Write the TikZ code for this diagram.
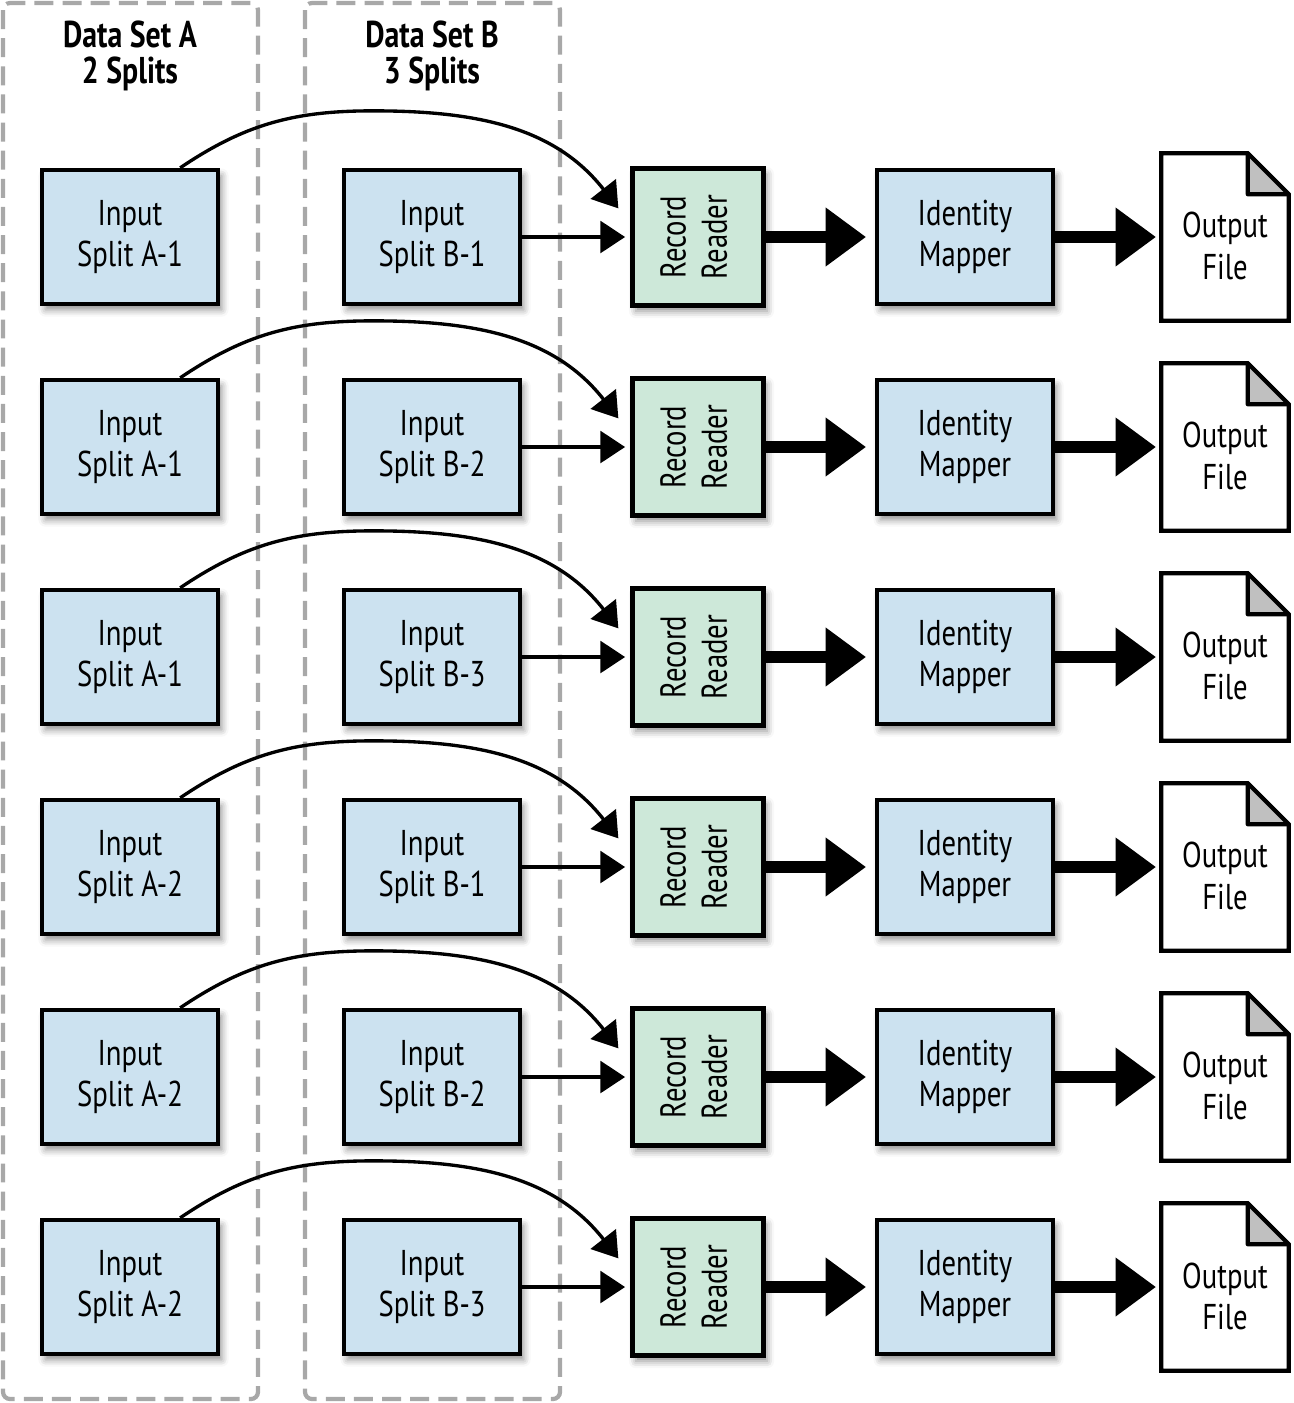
\documentclass[tikz,border=0pt]{standalone}
\usepackage{fontspec}
\setmainfont{PT Sans}[FakeStretch=0.8]
\usetikzlibrary{calc}
\usetikzlibrary{arrows.meta}
\usetikzlibrary{shadows.blur}

\definecolor{splitblue}{HTML}{CCE2F0}
\definecolor{readergreen}{HTML}{CDE8D9}
\definecolor{setgray}{HTML}{A8A8A8}
\definecolor{foldgray}{HTML}{C0C0C0}

\tikzset{
  box/.style={draw=black, line width=1.2pt, fill=splitblue, align=center, inner sep=0pt,
    minimum width=1.76cm, minimum height=1.34cm,
    blur shadow={shadow xshift=1pt, shadow yshift=-1.6pt, shadow blur radius=2pt, shadow opacity=45}},
  readerbox/.style={box, fill=readergreen, minimum width=1.31cm, minimum height=1.37cm},
  filebox/.style={align=center, inner sep=0pt, minimum width=1.26cm, minimum height=1.66cm},
  thinarrow/.style={-{Triangle[length=7pt,width=9pt]}, line width=0.95pt},
  fatarrow/.style={-{Triangle[length=11.5pt,width=16pt]}, line width=3.4pt},
  dataset/.style={draw=setgray, line width=1.2pt, dash pattern=on 5.4pt off 2.6pt, rounded corners=2pt},
  settitle/.style={align=center, font=\fontsize{10.6}{10.3}\selectfont\bfseries},
}

\begin{document}
\begin{tikzpicture}[x=0.01cm,y=-0.01cm,font=\fontsize{10.2}{11.7}\selectfont]
  % Constants
  \pgfmathsetmacro\fold{41}
  % Boundary
  \path[use as bounding box] (0,0) rectangle (1293,1403);
  % Data sets
  \draw[dataset] (3,3) rectangle (258,1399);
  \draw[dataset] (305,3) rectangle (560,1399);
  \node[settitle] (seta) at (130,56) {Data Set A\\2 Splits};
  \node[settitle] (setb) at (432,56) {Data Set B\\3 Splits};
  % Rows
  \foreach \r/\sa/\sb in {1/1/1, 2/1/2, 3/1/3, 4/2/1, 5/2/2, 6/2/3} {
    \pgfmathsetmacro\rowy{237+210*(\r-1)}
    \node[box] (a\r) at (130,\rowy) {Input\\Split A-\sa};
    \node[box] (b\r) at (432,\rowy) {Input\\Split B-\sb};
    \node[readerbox] (rr\r) at (698,\rowy) {\rotatebox{90}{\begin{tabular}{@{}c@{}}Record\\Reader\end{tabular}}};
    \node[box] (im\r) at (965,\rowy) {Identity\\Mapper};
    \node[filebox] (out\r) at (1225,\rowy) {};
    % Output file
    \filldraw[fill=white, line width=1.2pt] (out\r.north west) -- ($(out\r.north east)+(-\fold,0)$)
      -- ($(out\r.north east)+(0,\fold)$) -- (out\r.south east) -- (out\r.south west) -- cycle;
    \filldraw[fill=foldgray, line width=1.2pt, line join=round] ($(out\r.north east)+(-\fold,0)$)
      -- ($(out\r.north east)+(-\fold,\fold)$) -- ($(out\r.north east)+(0,\fold)$) -- cycle;
    \node[align=center] (outtext\r) at ($(out\r.center)+(0,9)$) {Output\\File};
    % Connectors
    \draw[thinarrow, shorten >=1.5pt] (b\r.east) -- (rr\r.west);
    \draw[thinarrow] ($(a\r.north east)+(-40,0)$) to[out=34,in=180] ($(b\r.north)+(-59,-57)$)
      to[out=0,in=128] ($(rr\r.north west)+(-12,42)$);
    \draw[fatarrow, shorten >=2.5pt] (rr\r.east) -- (im\r.west);
    \draw[fatarrow, shorten >=1.5pt] (im\r.east) -- (out\r.west);
  }
\end{tikzpicture}
\end{document}
